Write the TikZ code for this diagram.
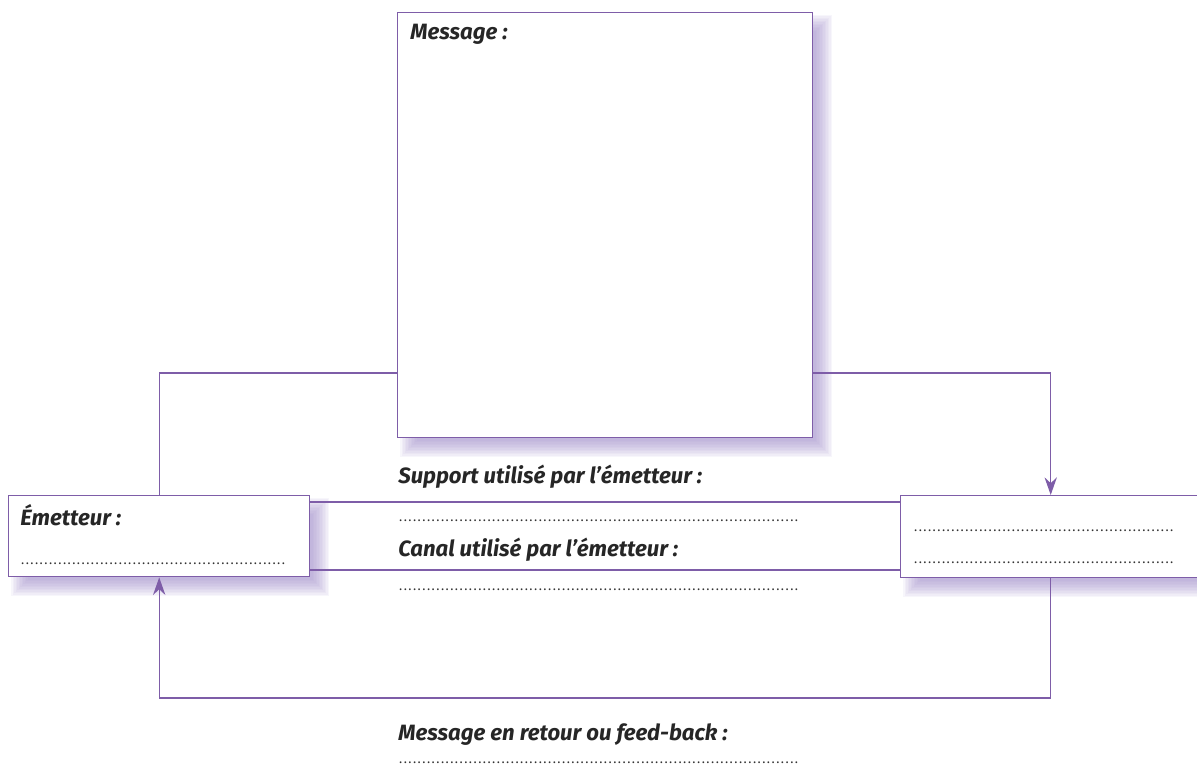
\documentclass[tikz,border=0pt]{standalone}
\usepackage{fontspec}
\setmainfont{Fira Sans}
\usetikzlibrary{arrows.meta,calc}
\pgfdeclarelayer{bg}
\pgfsetlayers{bg,main}
\definecolor{lin}{HTML}{7E5DA8}
\definecolor{shcol}{HTML}{9A86C6}
\newcommand{\hand}{\fontsize{12.6}{14}\selectfont\bfseries\itshape}
\newcommand{\dotrow}[1]{\fontsize{7.5}{8}\selectfont\makebox[#1]{\leaders\hbox to 2.65pt{\hss.\hss}\hfill}}
\tikzset{
  box/.style={draw=lin, line width=0.8pt, fill=white, rectangle, inner sep=0pt, anchor=north west},
  conn/.style={draw=lin, line width=0.8pt},
  arr/.style={conn, -{Stealth[length=10pt,width=7pt]}},
  lab/.style={anchor=base west, inner sep=0pt, font=\hand, text=black!85},
  dots/.style={anchor=base west, inner sep=0pt, text=black!80},
}
\begin{document}
\begin{tikzpicture}
\useasboundingbox (0,0) rectangle (23.94,15.42);
\clip (0,0) rectangle (23.94,15.42);
% boxes
\node[box, minimum width=8.30cm, minimum height=8.50cm] (msg) at (7.94,15.18) {};
\node[box, minimum width=6.02cm, minimum height=1.62cm] (emit) at (0.16,5.52) {};
\node[box, minimum width=6.00cm, minimum height=1.64cm] (recv) at (18.0,5.52) {};
% shadows
\begin{pgfonlayer}{bg}
\foreach \b in {msg,emit,recv}{
  \foreach \k in {0,...,11}{
    \fill[shcol, opacity=0.075]
      ($(\b.south west)+(0.24,-0.2)+(-0.18+\k*0.03,-0.18+\k*0.03)$) rectangle
      ($(\b.north east)+(0.2,-0.24)+(0.18-\k*0.03,0.18-\k*0.03)$);
  }
}
\end{pgfonlayer}
% level coordinates
\coordinate (lvl) at (0,7.96);
\coordinate (bot) at (0,1.46);
\coordinate (l1) at (0,5.38);
\coordinate (l2) at (0,4.02);
% connectors
\draw[conn] (msg.west |- lvl) -| (emit.north);
\draw[arr] (msg.east |- lvl) -| (recv.north);
\draw[arr] (recv.south) -- (recv.south |- bot) -| (emit.south);
\draw[conn] (emit.east |- l1) -- (recv.west |- l1);
\draw[conn] (emit.east |- l2) -- (recv.west |- l2);
% texts
\node[lab] (tmsg) at (8.2,14.62) {Message :};
\node[lab] (temit) at (0.40,4.90) {Émetteur :};
\node[dots] (demit) at (0.40,4.12) {\dotrow{5.32cm}};
\node[dots] (drecv1) at (18.26,4.78) {\dotrow{5.30cm}};
\node[dots] (drecv2) at (18.26,4.14) {\dotrow{5.30cm}};
\node[lab] (tsup) at (7.96,5.74) {Support utilisé par l’émetteur :};
\node[dots] (dsup) at (7.96,4.98) {\dotrow{8.06cm}};
\node[lab] (tcan) at (7.96,4.28) {Canal utilisé par l’émetteur :};
\node[dots] (dcan) at (7.96,3.60) {\dotrow{8.06cm}};
\node[lab] (tfb) at (7.96,0.62) {Message en retour ou feed-back :};
\node[dots] (dfb) at (7.96,0.14) {\dotrow{8.06cm}};
\end{tikzpicture}
\end{document}
